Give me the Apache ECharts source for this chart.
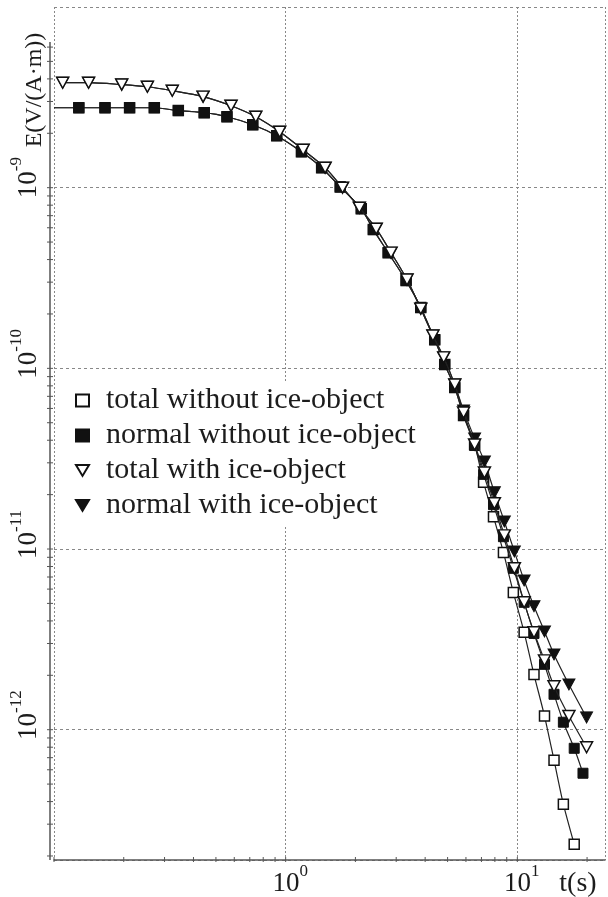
<!DOCTYPE html>
<html><head><meta charset="utf-8">
<script src="https://cdn.jsdelivr.net/npm/echarts@6/dist/echarts.min.js"></script>
<style>html,body{margin:0;padding:0;background:#fff}#c{width:608px;height:897px}</style>
</head><body><div id="c"></div>
<script>
// ---------------- data ----------------
const seriesNames = ['total without ice-object', 'normal without ice-object', 'total with ice-object', 'normal with ice-object'];

// time samples (s) for the runs without the ice object (first point: line only)
const tWithout = [0.1, 0.128, 0.166, 0.212, 0.271, 0.344, 0.445, 0.558, 0.721, 0.915, 1.17, 1.43, 1.72, 2.12, 2.39, 2.77, 3.31, 3.83, 4.40, 4.86, 5.37, 5.86, 6.54, 7.15, 7.89, 8.71, 9.61, 10.7, 11.8, 13.1, 14.4, 15.8, 17.6, 19.2];
const eTotalWithout = [2.77e-9, 2.77e-9, 2.77e-9, 2.77e-9, 2.77e-9, 2.67e-9, 2.60e-9, 2.47e-9, 2.23e-9, 1.94e-9, 1.58e-9, 1.29e-9, 1.01e-9, 7.65e-10, 5.86e-10, 4.37e-10, 3.06e-10, 2.17e-10, 1.44e-10, 1.05e-10, 7.83e-11, 5.48e-11, 3.79e-11, 2.34e-11, 1.51e-11, 9.58e-12, 5.75e-12, 3.46e-12, 2.02e-12, 1.19e-12, 6.78e-13, 3.87e-13, 2.32e-13];
const eNormalWithout = [2.77e-9, 2.77e-9, 2.77e-9, 2.77e-9, 2.77e-9, 2.67e-9, 2.60e-9, 2.47e-9, 2.23e-9, 1.94e-9, 1.58e-9, 1.29e-9, 1.01e-9, 7.65e-10, 5.86e-10, 4.37e-10, 3.06e-10, 2.17e-10, 1.44e-10, 1.05e-10, 7.83e-11, 5.48e-11, 3.74e-11, 2.59e-11, 1.76e-11, 1.17e-11, 7.82e-12, 5.07e-12, 3.41e-12, 2.30e-12, 1.57e-12, 1.10e-12, 7.89e-13, 5.74e-13];

// time samples (s) for the runs with the ice object
const tWith = [0.109, 0.141, 0.196, 0.253, 0.324, 0.440, 0.581, 0.743, 0.942, 1.19, 1.48, 1.76, 2.08, 2.46, 2.85, 3.34, 3.83, 4.32, 4.81, 5.37, 5.86, 6.54, 7.21, 7.96, 8.79, 9.71, 10.7, 11.8, 13.1, 14.4, 16.7, 19.9];
const eTotalWith = [3.81e-9, 3.81e-9, 3.72e-9, 3.62e-9, 3.44e-9, 3.19e-9, 2.84e-9, 2.47e-9, 2.04e-9, 1.62e-9, 1.29e-9, 1.00e-9, 7.75e-10, 5.93e-10, 4.37e-10, 3.10e-10, 2.14e-10, 1.52e-10, 1.15e-10, 8.13e-11, 5.70e-11, 3.79e-11, 2.65e-11, 1.79e-11, 1.19e-11, 7.82e-12, 5.07e-12, 3.46e-12, 2.42e-12, 1.74e-12, 1.19e-12, 8.0e-13];
const eNormalWith = [3.81e-9, 3.81e-9, 3.72e-9, 3.62e-9, 3.44e-9, 3.19e-9, 2.84e-9, 2.47e-9, 2.04e-9, 1.62e-9, 1.29e-9, 1.00e-9, 7.75e-10, 5.93e-10, 4.37e-10, 3.10e-10, 2.14e-10, 1.52e-10, 1.15e-10, 8.13e-11, 5.85e-11, 4.09e-11, 3.05e-11, 2.06e-11, 1.42e-11, 9.70e-12, 6.70e-12, 4.82e-12, 3.50e-12, 2.61e-12, 1.78e-12, 1.17e-12];

// axes
const xRange = [0.1, 23.9];
const yRange = [1.9e-13, 1e-8];
const xLabelExponents = [0, 1];
const yLabelExponents = [-9, -10, -11, -12];
const xDecades = [0.1, 1, 10];
const yDecades = [1e-13, 1e-12, 1e-11, 1e-10, 1e-9];
const tickFactors = [1, 2, 3, 4, 5, 6, 7, 8, 9];
const yAxisTitle = 'E(V/(A\u00B7m))';
const xAxisTitle = 't(s)';

// ---------------- chart ----------------
const FONT = 'Liberation Serif';
const INK = '#1c1c1c';
const DOWN_TRI = 'path://M0,0L12,0L6,10Z';

function pairs(ts, es, lineOnlyFirst) {
  return es.map((e, i) => (lineOnlyFirst && i === 0) ? { value: [ts[i], e], symbol: 'none' } : [ts[i], e]);
}
function expOf(v) {
  const l = Math.log10(v); const e = Math.round(l);
  return Math.abs(l - e) < 1e-6 ? e : null;
}
const tickData = [];
xDecades.forEach(d => tickFactors.forEach(f => { const v = d * f; if (v >= xRange[0] - 1e-12 && v <= xRange[1]) tickData.push([v, yRange[0], 0]); }));
yDecades.forEach(d => tickFactors.forEach(f => { const v = d * f; if (v >= yRange[0] && v <= yRange[1]) tickData.push([xRange[0], v, 1]); }));
tickData.push([xRange[0], yRange[0], 2]);

const AXIS_SHIFT = 4, AXIS_TOP = 35;
const lineStyleCommon = { color: '#222', width: 1.2 };

const chart = echarts.init(document.getElementById('c'), null, { renderer: 'canvas' });
chart.setOption({
  animation: false,
  backgroundColor: '#fff',
  grid: { left: 54, right: 0, top: 7, bottom: 37, containLabel: false },
  xAxis: {
    type: 'log', min: xRange[0], max: xRange[1],
    axisLine: { show: true, lineStyle: { color: '#555', width: 1.5 } },
    axisTick: { show: false },
    splitLine: { show: true, lineStyle: { color: '#888', width: 1, type: [2, 2] } },
    axisLabel: {
      margin: 3, showMinLabel: true, showMaxLabel: true,
      formatter: v => { const e = expOf(v); return (e !== null && xLabelExponents.includes(e)) ? '{pad| }{base|10}{sup|' + e + '}' : ''; },
      rich: {
        base: { fontFamily: FONT, fontSize: 27, color: INK, verticalAlign: 'bottom', lineHeight: 34 },
        sup: { fontFamily: FONT, fontSize: 17, color: INK, verticalAlign: 'top', lineHeight: 20 },
        pad: { fontFamily: FONT, fontSize: 17, width: 9 }
      }
    }
  },
  yAxis: {
    type: 'log', min: yRange[0], max: yRange[1],
    axisLine: { show: false },
    axisTick: { show: false },
    splitLine: { show: true, lineStyle: { color: '#888', width: 1, type: [3, 3] } },
    axisLabel: {
      rotate: 90, margin: 12,
      formatter: v => { const e = expOf(v); if (e === null || !yLabelExponents.includes(e)) return ''; const s = String(e); return '{' + (s.length > 2 ? 'pad3' : 'pad2') + '| }{base|10}{sup|' + s + '}'; },
      rich: {
        base: { fontFamily: FONT, fontSize: 27, color: INK, verticalAlign: 'bottom', lineHeight: 34 },
        sup: { fontFamily: FONT, fontSize: 17, color: INK, verticalAlign: 'top', lineHeight: 20 },
        pad2: { fontFamily: FONT, fontSize: 17, width: 20 },
        pad3: { fontFamily: FONT, fontSize: 17, width: 29 }
      }
    }
  },
  legend: {
    orient: 'vertical', left: 57, top: 381, padding: [2, 4, 4, 18], itemGap: 0,
    backgroundColor: '#fff',
    itemWidth: 13, itemHeight: 12, selectedMode: false,
    data: [
      { name: seriesNames[0], icon: 'rect' },
      { name: seriesNames[1], icon: 'rect' },
      { name: seriesNames[2], icon: DOWN_TRI },
      { name: seriesNames[3], icon: DOWN_TRI }
    ],
    textStyle: { fontFamily: FONT, fontSize: 30, color: INK, lineHeight: 35, padding: [0, 0, 0, 12] }
  },
  graphic: [
    { type: 'text', x: 35, y: 90, rotation: Math.PI / 2, style: { text: yAxisTitle, fontFamily: FONT, fontSize: 24, fill: INK, align: 'center', verticalAlign: 'middle' } },
    { type: 'text', x: 578, y: 884, style: { text: xAxisTitle, fontFamily: FONT, fontSize: 28, fill: INK, align: 'center', verticalAlign: 'middle' } }
  ],
  series: [
    {
      type: 'custom', name: 'ticks', silent: true, clip: false, z: 1,
      data: tickData,
      renderItem: (params, api) => {
        const kind = api.value(2);
        const p = api.coord([api.value(0), api.value(1)]);
        const cs = params.coordSys;
        const st = { stroke: '#555', lineWidth: 1 };
        if (kind === 0) return { type: 'line', shape: { x1: p[0], y1: p[1] - 3, x2: p[0], y2: p[1] + 2 }, style: st };
        const ax = cs.x - AXIS_SHIFT;
        if (kind === 1) {
          if (p[1] < cs.y + AXIS_TOP) return null;
          return { type: 'line', shape: { x1: ax - 3, y1: p[1], x2: ax + 3, y2: p[1] }, style: st };
        }
        return { type: 'line', shape: { x1: ax, y1: cs.y + AXIS_TOP, x2: ax, y2: cs.y + cs.height }, style: { stroke: '#555', lineWidth: 1.5 } };
      }
    },
    {
      name: seriesNames[0], type: 'line', data: pairs(tWithout, eTotalWithout, true),
      symbol: 'rect', symbolSize: 10, showAllSymbol: true, smooth: 0.25, z: 2,
      itemStyle: { color: '#fff', borderColor: '#111', borderWidth: 1.5 }, lineStyle: lineStyleCommon
    },
    {
      name: seriesNames[1], type: 'line', data: pairs(tWithout, eNormalWithout, true),
      symbol: 'rect', symbolSize: 10, showAllSymbol: true, smooth: 0.25, z: 3,
      itemStyle: { color: '#111', borderColor: '#111', borderWidth: 1 }, lineStyle: lineStyleCommon
    },
    {
      name: seriesNames[3], type: 'line', data: pairs(tWith, eNormalWith, false),
      symbol: DOWN_TRI, symbolSize: [12, 11], showAllSymbol: true, smooth: 0.25, z: 4,
      itemStyle: { color: '#111', borderColor: '#111', borderWidth: 1 }, lineStyle: lineStyleCommon
    },
    {
      name: seriesNames[2], type: 'line', data: pairs(tWith, eTotalWith, false),
      symbol: DOWN_TRI, symbolSize: [12, 11], showAllSymbol: true, smooth: 0.25, z: 5,
      itemStyle: { color: '#fff', borderColor: '#111', borderWidth: 1.5 }, lineStyle: lineStyleCommon
    }
  ]
});
</script></body></html>
